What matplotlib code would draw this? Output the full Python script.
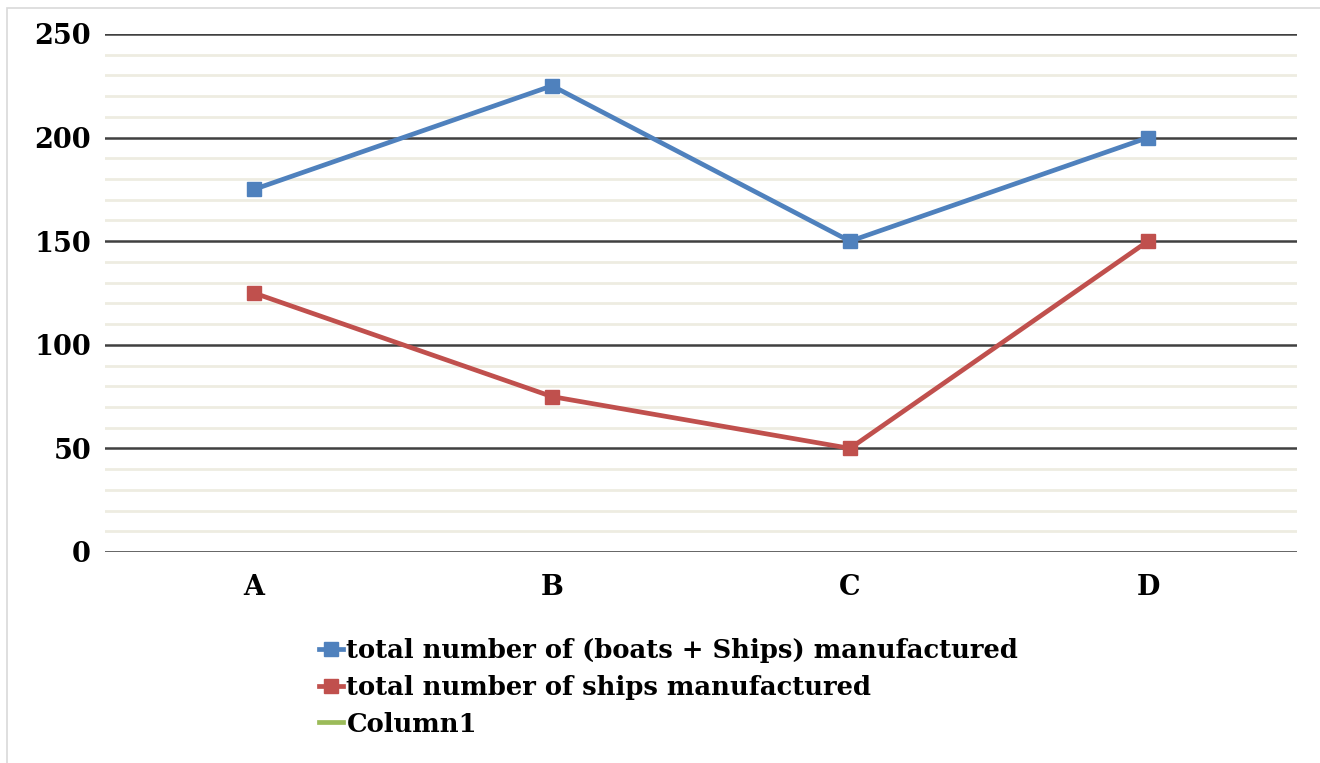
import matplotlib.pyplot as plt
from matplotlib.patches import Rectangle

categories = ['A', 'B', 'C', 'D']
total_boats_ships = [175, 225, 150, 200]
total_ships = [125, 75, 50, 150]
column1 = []

plt.rcParams['font.family'] = ['DejaVu Serif']
plt.rcParams['font.weight'] = 'bold'

fig = plt.figure(figsize=(13.2, 7.63), dpi=100)
ax = fig.add_axes([105 / 1320, 1 - 552 / 763, 1192 / 1320, 518 / 763])

x = list(range(len(categories)))
ax.plot(x, total_boats_ships, color='#4F81BD', lw=3.4, marker='s', ms=10,
        label='total number of (boats + Ships) manufactured', zorder=3)
ax.plot(x, total_ships, color='#C0504D', lw=3.4, marker='s', ms=10,
        label='total number of ships manufactured', zorder=3)
ax.plot(column1, column1, color='#9BBB59', lw=3.4, label='Column1')

ax.set_xlim(-0.5, 3.5)
ax.set_ylim(0, 250)
ax.set_yticks(range(0, 251, 50))
ax.set_yticks(range(0, 251, 10), minor=True)
ax.grid(True, which='minor', axis='y', color='#EEECE1', lw=2.0, zorder=0)
ax.grid(True, which='major', axis='y', color='#404040', lw=1.8, zorder=1)
ax.set_xticks(x)
ax.set_xticklabels(categories)
ax.tick_params(axis='both', which='both', length=0, labelsize=19.5)
ax.tick_params(axis='x', pad=16)
ax.tick_params(axis='y', pad=10)
for s in ax.spines.values():
    s.set_visible(False)
ax.axhline(0, color='#D9D9D9', lw=1.8, zorder=1)

leg = fig.legend(loc='upper left', bbox_to_anchor=(296 / 1320, 1 - 615 / 763),
                 frameon=False, fontsize=18.6, handlelength=0.9, handletextpad=0.15,
                 labelspacing=0.45)

fig.patches.append(Rectangle((7 / 1320, -0.1), 1.2, 1 - 8 / 763 + 0.1,
                             transform=fig.transFigure, fill=False,
                             edgecolor='#D9D9D9', lw=1.2))

fig.savefig('out.png', dpi=100)
